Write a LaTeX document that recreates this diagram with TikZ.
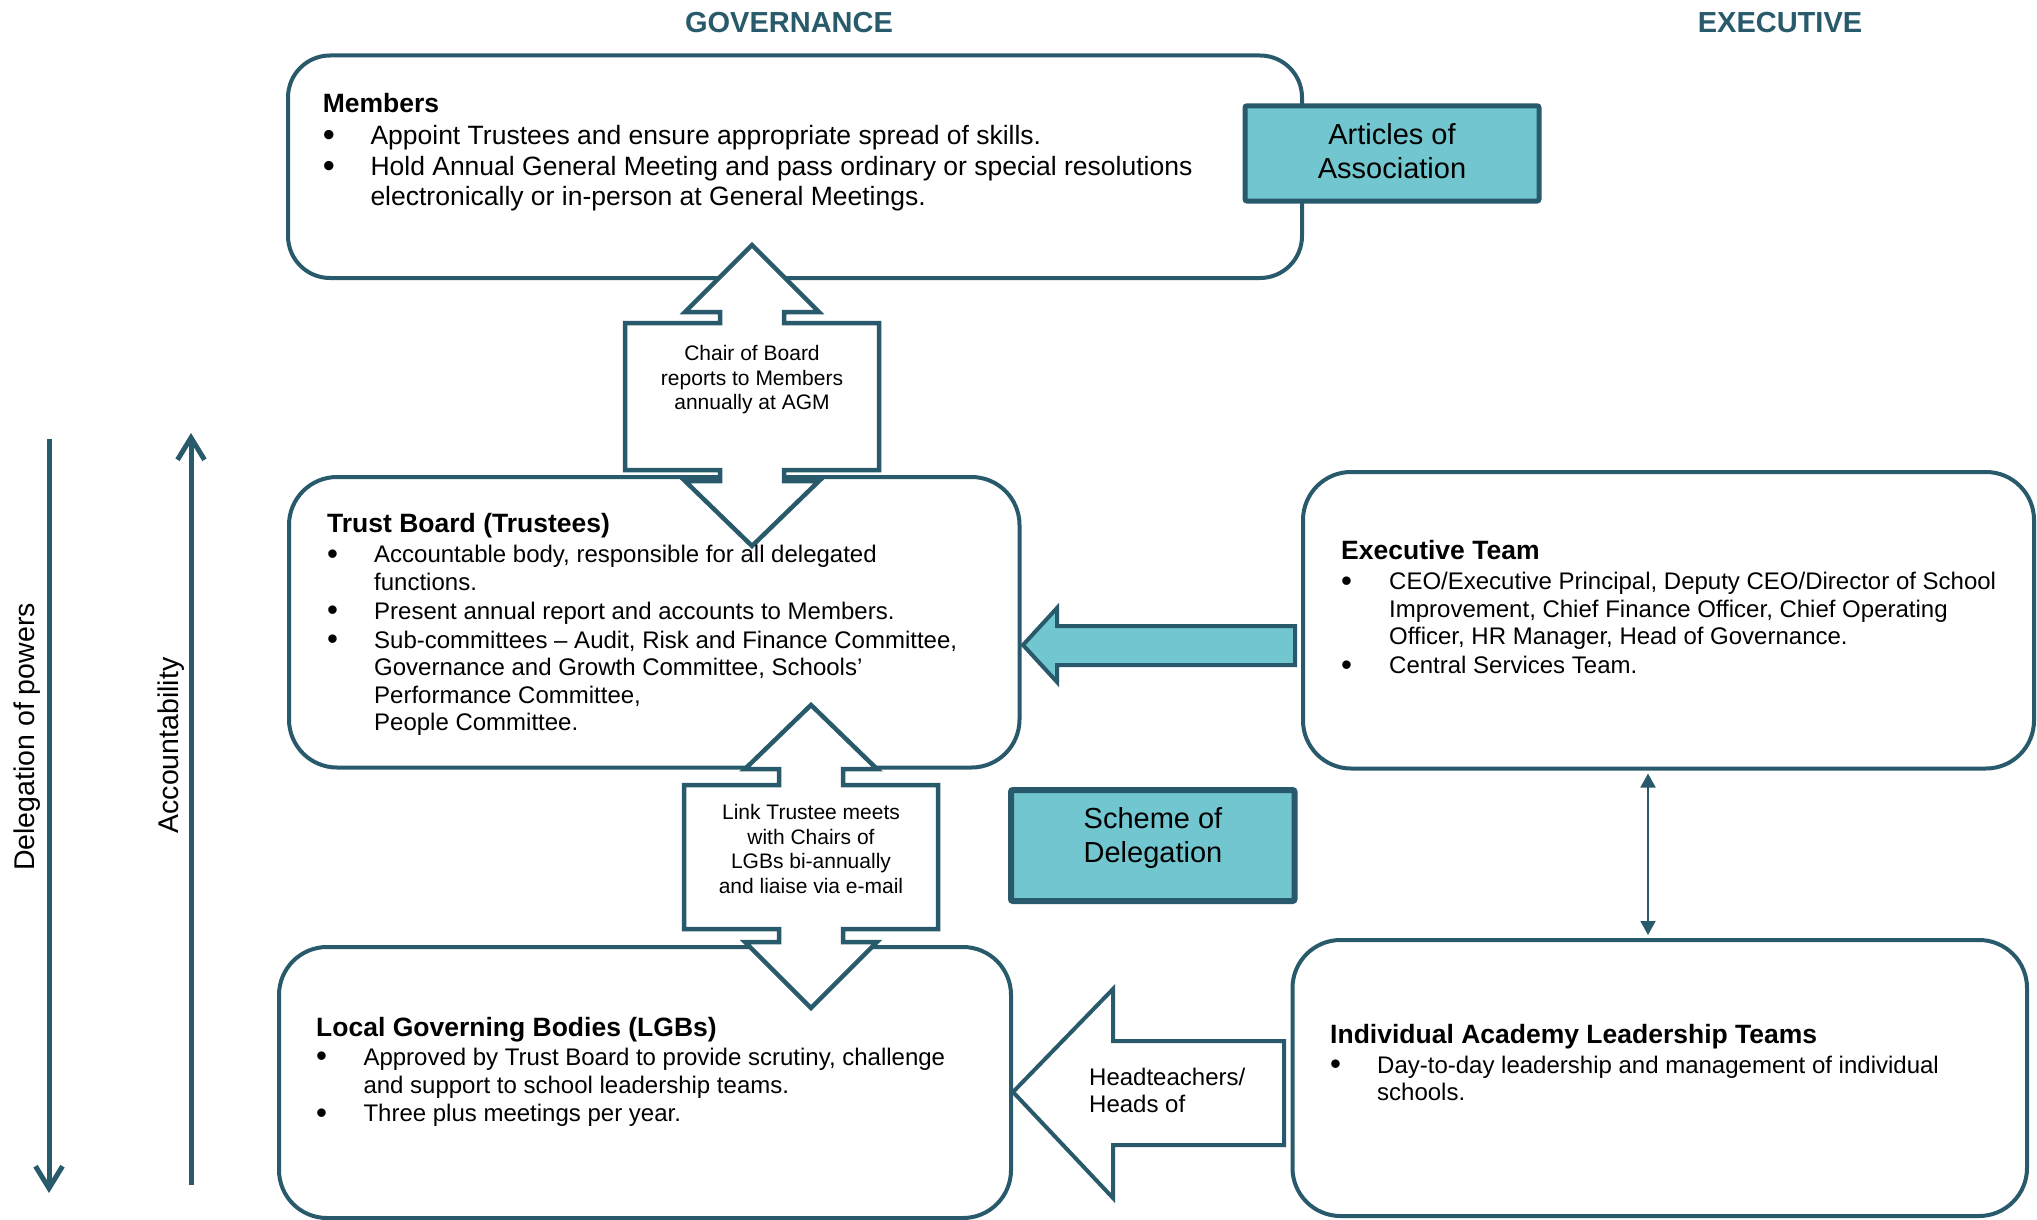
\documentclass[tikz,border=0pt]{standalone}
\usepackage{fontspec}
\setmainfont{Liberation Sans}
\usetikzlibrary{arrows.meta}
\definecolor{dteal}{RGB}{41,90,108}
\definecolor{lteal}{RGB}{114,198,207}
\newcommand{\hd}[1]{\multicolumn{2}{@{}l@{}}{\fontsize{26.5}{29.5}\selectfont\bfseries #1}}
\newcommand{\bl}{\raisebox{-0.075em}{\scalebox{1.3}{\textbullet}}}
\begin{document}
\begin{tikzpicture}[x=1pt,y=-1pt,
  box/.style={draw=dteal, line width=4pt, rounded corners=48pt, fill=white, inner sep=0pt},
  tealbox/.style={draw=dteal, line width=5pt, rounded corners=2pt, fill=lteal, inner sep=0pt},
  blockarrow/.style={draw=dteal, line width=4.5pt, line join=miter},
  txt/.style={inner sep=0pt, text=black},
  body/.style={txt, anchor=base west, font=\fontsize{24}{27.6}\selectfont},
  small/.style={txt, anchor=base, font=\fontsize{21}{24.6}\selectfont},
  big/.style={txt, anchor=base, font=\fontsize{29}{33.5}\selectfont},
  head/.style={txt, anchor=base, text=dteal, font=\fontsize{29}{33}\selectfont\bfseries},
  longarrow/.style={draw=dteal, line width=5pt, -{Straight Barb[length=22pt,width=27pt]}}
]
\useasboundingbox (0,0) rectangle (2037,1220);
\fill[white] (0,0) rectangle (2037,1220);

% titles
\node[head] (gov) at (789,32.3) {GOVERNANCE};
\node[head] (exe) at (1780,32.3) {EXECUTIVE};

% boxes
\node[box, rounded corners=42pt, minimum width=1014pt, minimum height=222.5pt] (members) at (795,166.75) {};
\node[tealbox, minimum width=294pt, minimum height=95.2pt] (articles) at (1392,153.4) {};
\node[box, minimum width=730.5pt, minimum height=290.5pt] (trust) at (654.25,622.25) {};
\node[box, minimum width=731pt, minimum height=296.5pt] (exec) at (1668.5,620.25) {};
\node[tealbox, line width=6pt, minimum width=283.5pt, minimum height=111pt] (scheme) at (1152.75,845.5) {};
\node[box, minimum width=732pt, minimum height=271pt] (lgb) at (645,1082.5) {};
\node[box, minimum width=734.5pt, minimum height=276pt] (ialt) at (1659.75,1078) {};

% callout 1 (Chair of Board)
\draw[blockarrow, fill=white] (752,245) -- (819,312) -- (784,312) -- (784,323) -- (879,323) -- (879,470)
  -- (784,470) -- (784,481) -- (819,481) -- (752,546) -- (685,481) -- (720,481) -- (720,470)
  -- (625,470) -- (625,323) -- (720,323) -- (720,312) -- (685,312) -- cycle;
% callout 2 (Link Trustee)
\draw[blockarrow, fill=white] (811,705) -- (877,769) -- (843,769) -- (843,785) -- (938,785) -- (938,929)
  -- (843,929) -- (843,942) -- (877,942) -- (811,1008) -- (745,942) -- (779,942) -- (779,929)
  -- (684,929) -- (684,785) -- (779,785) -- (779,769) -- (745,769) -- cycle;
% teal arrow Executive -> Trust Board
\draw[blockarrow, line width=4pt, fill=lteal] (1023,645) -- (1057,608) -- (1057,626) -- (1295,626)
  -- (1295,665) -- (1057,665) -- (1057,682) -- cycle;
% Headteachers arrow
\draw[blockarrow, line width=4pt, fill=white] (1013,1092) -- (1113,989) -- (1113,1041) -- (1284,1041)
  -- (1284,1145) -- (1113,1145) -- (1113,1198) -- cycle;

% thin double arrow
\coordinate (ax) at (1648,0);
\draw[dteal, line width=1.8pt, {Triangle[length=14pt,width=15pt]}-{Triangle[length=14pt,width=15pt]}]
  ([yshift=-3pt]exec.south -| ax) -- ([yshift=3pt]ialt.north -| ax);

% long left arrows
\coordinate (d1) at (49,439);
\coordinate (d2) at (49,1193);
\coordinate (a1) at (191,1185);
\coordinate (a2) at (191,433);
\draw[longarrow] (d1) -- (d2);
\draw[longarrow] (a1) -- (a2);
\node[txt, rotate=90, anchor=base, font=\fontsize{28.5}{33}\selectfont] (deleg) at (34.3,737) {Delegation of powers};
\node[txt, rotate=90, anchor=base, font=\fontsize{28.5}{33}\selectfont] (acct) at (178.3,745.5) {Accountability};

% texts
\node[txt, anchor=base west, font=\fontsize{26.5}{29.5}\selectfont] (membersT) at (322.6,112.3) {%
\begin{tabular}[t]{@{}p{47.7pt}@{}l@{}}
\hd{Members}\\[2.7pt]
\bl & Appoint Trustees and ensure appropriate spread of skills.\\[2pt]
\bl & Hold Annual General Meeting and pass ordinary or special resolutions\\
 & electronically or in-person at General Meetings.
\end{tabular}};

\node[body] (trustT) at (327,532) {%
\begin{tabular}[t]{@{}p{47pt}@{}l@{}}
\hd{Trust Board (Trustees)}\\[2.9pt]
\bl & Accountable body, responsible for all delegated\\
 & functions.\\[1.4pt]
\bl & Present annual report and accounts to Members.\\[1.4pt]
\bl & Sub-committees – Audit, Risk and Finance Committee,\\
 & Governance and Growth Committee, Schools’\\
 & Performance Committee,\\
 & People Committee.
\end{tabular}};

\node[body] (execT) at (1341,559) {%
\begin{tabular}[t]{@{}p{48pt}@{}l@{}}
\hd{Executive Team}\\[2.8pt]
\bl & CEO/Executive Principal, Deputy CEO/Director of School\\
 & Improvement, Chief Finance Officer, Chief Operating\\
 & Officer, HR Manager, Head of Governance.\\[1pt]
\bl & Central Services Team.
\end{tabular}};

\node[body] (ialtT) at (1330,1043) {%
\begin{tabular}[t]{@{}p{47pt}@{}l@{}}
\hd{Individual Academy Leadership Teams}\\[2.4pt]
\bl & Day-to-day leadership and management of individual\\
 & schools.
\end{tabular}};

\node[body, font=\fontsize{24}{28.3}\selectfont] (lgbT) at (316,1036.7) {%
\begin{tabular}[t]{@{}p{47.3pt}@{}l@{}}
\hd{Local Governing Bodies (LGBs)}\\
\bl & Approved by Trust Board to provide scrutiny, challenge\\
 & and support to school leadership teams.\\
\bl & Three plus meetings per year.
\end{tabular}};

\node[small] (call1) at (752,360.5) {\begin{tabular}[t]{@{}c@{}}Chair of Board\\reports to Members\\annually at AGM\end{tabular}};
\node[small] (call2) at (811,819.5) {\begin{tabular}[t]{@{}c@{}}Link Trustee meets\\with Chairs of\\LGBs bi-annually\\and liaise via e-mail\end{tabular}};
\node[body] (ht) at (1089,1085) {\begin{tabular}[t]{@{}l@{}}Headteachers/\\Heads of\end{tabular}};

\node[big] (artT) at (1392,145) {\begin{tabular}[t]{@{}c@{}}Articles of\\Association\end{tabular}};
\node[big] (schT) at (1153,828.6) {\begin{tabular}[t]{@{}c@{}}Scheme of\\Delegation\end{tabular}};
\end{tikzpicture}
\end{document}
